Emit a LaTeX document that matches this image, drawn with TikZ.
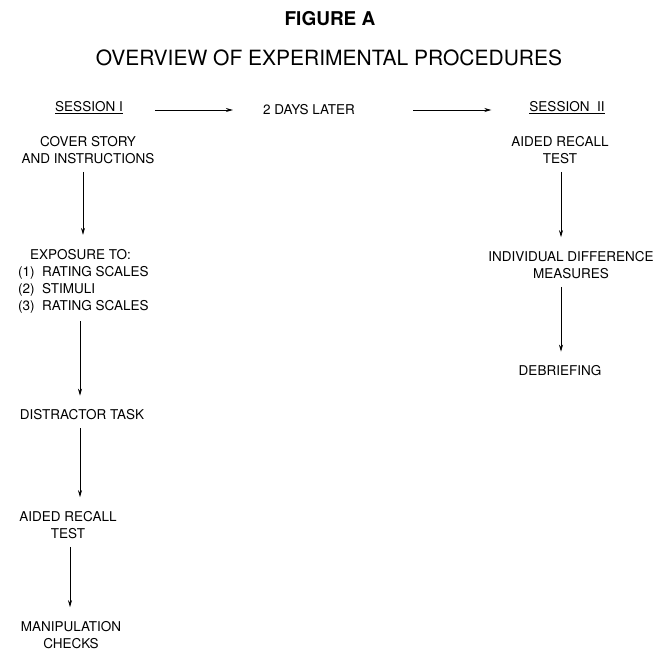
\documentclass[tikz,border=0pt]{standalone}
\usepackage{fontspec}
\setmainfont{TeX Gyre Heros}
\usepackage{tikz}
\usetikzlibrary{arrows.meta, positioning}

\begin{document}
\begin{tikzpicture}[x=1pt, y=-1pt,
    stage/.style={align=center, inner sep=2pt, font=\fontsize{13.5}{17}\selectfont},
    flow/.style={-{Stealth[length=7pt,width=4pt]}, line width=0.7pt},
    down/.style={flow, shorten <=6pt, shorten >=12pt}]

        \useasboundingbox (0,0) rectangle (667,651);

        \node[font=\fontsize{19}{21}\selectfont\bfseries] (fig) at (330,19) {FIGURE A};
        \node[font=\fontsize{21}{24}\selectfont] (title) at (329,58)
              {OVERVIEW OF EXPERIMENTAL PROCEDURES};

        \node[stage] (s_1) at (89,108) {\underline{SESSION I}};
        \node[stage] (days) at (309,110) {2 DAYS LATER};
        \node[stage] (s_2) at (567,108) {\underline{SESSION\ \ II}};

        \node[stage] (cover) at (88,150) {COVER STORY\\AND INSTRUCTIONS};

        \node[stage, align=left, anchor=west] (expo) at (16,281)
              {\hspace*{12pt}EXPOSURE TO:\\
               (1)\ \ RATING SCALES\\
               (2)\ \ STIMULI\\
               (3)\ \ RATING SCALES};

        \node[stage] (distract) at (82,415) {DISTRACTOR TASK};

        \node[stage] (aided_1) at (68,525) {AIDED RECALL\\TEST};

        \node[stage] (manip) at (71,635) {MANIPULATION\\CHECKS};

        \node[stage] (aided_2) at (560,150) {AIDED RECALL\\TEST};

        \node[stage] (indiv) at (571,265) {INDIVIDUAL DIFFERENCE\\MEASURES};

        \node[stage] (debrief) at (560,371) {DEBRIEFING};

         \draw[flow, shorten <=30pt, shorten >=28pt] (s_1.east |- days) -- (days.west);
         \draw[flow, shorten <=56pt, shorten >=36pt] (days.east) -- (s_2.west |- days);

         \draw[down] ([xshift=-5pt]cover.south) -- ([xshift=-5pt]cover.south |- expo.north);
         \draw[down] ([xshift=-2pt]distract.north |- expo.south) -- ([xshift=-2pt]distract.north);
         \draw[down] ([xshift=-2pt]distract.south) -- ([xshift=-2pt]distract.south |- aided_1.north);
         \draw[down] ([xshift=2pt]aided_1.south) -- ([xshift=2pt]aided_1.south |- manip.north);

         \draw[down] ([xshift=1pt]aided_2.south) -- ([xshift=1pt]aided_2.south |- indiv.north);
         \draw[down] ([xshift=1pt]debrief.north |- indiv.south) -- ([xshift=1pt]debrief.north);

    \end{tikzpicture}
\end{document}
